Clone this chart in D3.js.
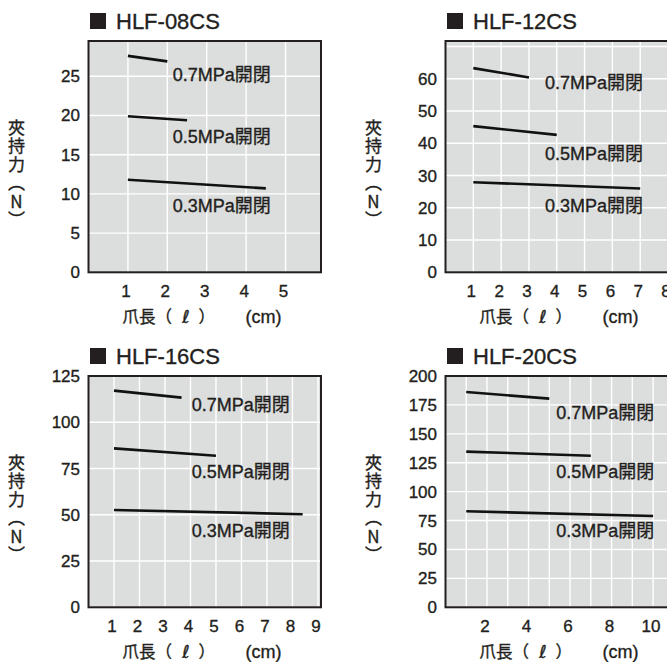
<!DOCTYPE html>
<html><head><meta charset="utf-8">
<script src="https://cdn.jsdelivr.net/npm/d3@7"></script>
<style>
body{margin:0;background:#fff;}
svg{display:block;}
text{font-family:"Liberation Sans","Noto Sans CJK JP",sans-serif;fill:#231f20;stroke:#231f20;stroke-width:0.35px;}
.cjk{font-family:"Noto Sans CJK JP",sans-serif;}
.ell{font-family:"DejaVu Sans",sans-serif;}
.vt{writing-mode:vertical-rl;text-orientation:upright;}
</style>
</head><body>
<svg id="c" width="667" height="662"></svg>
<script>
// ---- data ----
const models = ["HLF-08CS", "HLF-12CS", "HLF-16CS", "HLF-20CS"];
const seriesNames = ["0.7MPa開閉", "0.5MPa開閉", "0.3MPa開閉"];
// claw length (cm): [start, end] for each series
const hlf08Length = [[1, 2], [1, 2.5], [1, 4.5]];
const hlf12Length = [[1, 3], [1, 4], [1, 7]];
const hlf16Length = [[1, 3.65], [1, 5], [1, 8.4]];
const hlf20Length = [[1, 5], [1, 7], [1, 10]];
// gripping force (N): [start, end] for each series
const hlf08Force = [[27.6, 26.9], [19.9, 19.4], [11.8, 10.7]];
const hlf12Force = [[63.3, 60.4], [45.3, 42.6], [27.9, 26.0]];
const hlf16Force = [[117.1, 113.3], [85.9, 81.9], [52.6, 50.3]];
const hlf20Force = [[186.2, 180.4], [134.6, 131.1], [83.0, 78.9]];
// tick labels
const hlf08YTicks = [0, 5, 10, 15, 20, 25];
const hlf12YTicks = [0, 10, 20, 30, 40, 50, 60];
const hlf16YTicks = [0, 25, 50, 75, 100, 125];
const hlf20YTicks = [0, 25, 50, 75, 100, 125, 150, 175, 200];
const hlf08XTicks = [1, 2, 3, 4, 5];
const hlf12XTicks = [1, 2, 3, 4, 5, 6, 7, 8];
const hlf16XTicks = [1, 2, 3, 4, 5, 6, 7, 8, 9];
const hlf20XTicks = [2, 4, 6, 8, 10];
const yTitle = "夾持力（N）";

// ---- layout (not data) ----
const layout = [
  {left: 88.5, top: 41, right: 321, bottom: 272.3, xMax: 5.9, yMax: 29.5,
   gridX: [1,2,3,4,5], gridY: [5,10,15,20,25], labelX: 2.14, labelY: [24.4, 16.45, 7.73]},
  {left: 445.5, top: 41, right: 700, bottom: 272.3, xMax: 9.15, yMax: 71.7,
   gridX: [1,2,3,4,5,6,7,8,9], gridY: [10,20,30,40,50,60,70], labelX: 3.58, labelY: [56.7, 34.8, 18.6]},
  {left: 88.5, top: 376, right: 321, bottom: 607.3, xMax: 9.12, yMax: 125,
   gridX: [1,2,3,4,5,6,7,8,9], gridY: [25,50,75,100], labelX: 4.05, labelY: [106.2, 69.8, 38.2]},
  {left: 445.5, top: 376, right: 700, bottom: 607.3, xMax: 12.26, yMax: 200,
   gridX: [1,2,3,4,5,6,7,8,9,10,11], gridY: [25,50,75,100,125,150,175], labelX: 5.33, labelY: [162.6, 111.5, 60.5]}
];
const lengths = [hlf08Length, hlf12Length, hlf16Length, hlf20Length];
const forces = [hlf08Force, hlf12Force, hlf16Force, hlf20Force];
const yTicks = [hlf08YTicks, hlf12YTicks, hlf16YTicks, hlf20YTicks];
const xTicks = [hlf08XTicks, hlf12XTicks, hlf16XTicks, hlf20XTicks];

const svg = d3.select("#c");
const ink = "#231f20";

models.forEach((name, i) => {
  const L = layout[i];
  const x = d3.scaleLinear().domain([0, L.xMax]).range([L.left, L.right]);
  const y = d3.scaleLinear().domain([0, L.yMax]).range([L.bottom, L.top]);
  const g = svg.append("g");

  g.append("rect").attr("x", L.left).attr("y", L.top)
    .attr("width", L.right - L.left).attr("height", L.bottom - L.top)
    .attr("fill", "#dcdddd");

  g.selectAll(".gx").data(L.gridX).enter().append("line")
    .attr("x1", d => x(d)).attr("x2", d => x(d))
    .attr("y1", L.top).attr("y2", L.bottom)
    .attr("stroke", "#fff").attr("stroke-width", 1.4);
  g.selectAll(".gy").data(L.gridY).enter().append("line")
    .attr("y1", d => y(d)).attr("y2", d => y(d))
    .attr("x1", L.left).attr("x2", L.right)
    .attr("stroke", "#fff").attr("stroke-width", 1.4);

  g.append("rect").attr("x", L.left).attr("y", L.top)
    .attr("width", L.right - L.left).attr("height", L.bottom - L.top)
    .attr("fill", "none").attr("stroke", ink).attr("stroke-width", 2);

  const line = d3.line().x(d => x(d[0])).y(d => y(d[1]));
  seriesNames.forEach((s, j) => {
    const pts = lengths[i][j].map((len, k) => [len, forces[i][j][k]]);
    g.append("path").attr("d", line(pts))
      .attr("fill", "none").attr("stroke", "#111").attr("stroke-width", 2.6);
    g.append("text").attr("x", x(L.labelX)).attr("y", y(L.labelY[j]))
      .attr("font-size", 18).text(s);
  });

  g.selectAll(".yt").data(yTicks[i]).enter().append("text")
    .attr("x", L.left - 8.5).attr("y", d => y(d) + 6)
    .attr("text-anchor", "end").attr("font-size", 17).text(d => d);

  g.selectAll(".xt").data(xTicks[i]).enter().append("text")
    .attr("x", d => x(d) - 2).attr("y", L.bottom + 25)
    .attr("text-anchor", "middle").attr("font-size", 17).text(d => d);

  g.append("rect").attr("x", L.left + 1.5).attr("y", L.top - 28)
    .attr("width", 16).attr("height", 16).attr("fill", ink);
  g.append("text").attr("x", L.left + 27.5).attr("y", L.top - 12.5)
    .attr("font-size", 22).text(name);

  const xb = L.bottom + 51;
  g.append("text").attr("class", "cjk").attr("x", L.left + 34).attr("y", xb)
    .attr("font-size", 16.5).text("爪長（");
  g.append("text").attr("class", "ell").attr("x", L.left + 97.5).attr("y", xb).attr("text-anchor", "middle")
    .attr("font-size", 18).attr("font-style", "italic").text("ℓ");
  g.append("text").attr("class", "cjk").attr("x", L.left + 110).attr("y", xb)
    .attr("font-size", 16.5).text("）");
  g.append("text").attr("x", L.left + 157).attr("y", xb)
    .attr("font-size", 18).text("(cm)");

  g.append("text").attr("class", "cjk vt")
    .attr("x", L.left - 72).attr("y", L.top + 78)
    .attr("font-size", 17).style("letter-spacing", "1.5px").text(yTitle);
});
</script>
</body></html>
